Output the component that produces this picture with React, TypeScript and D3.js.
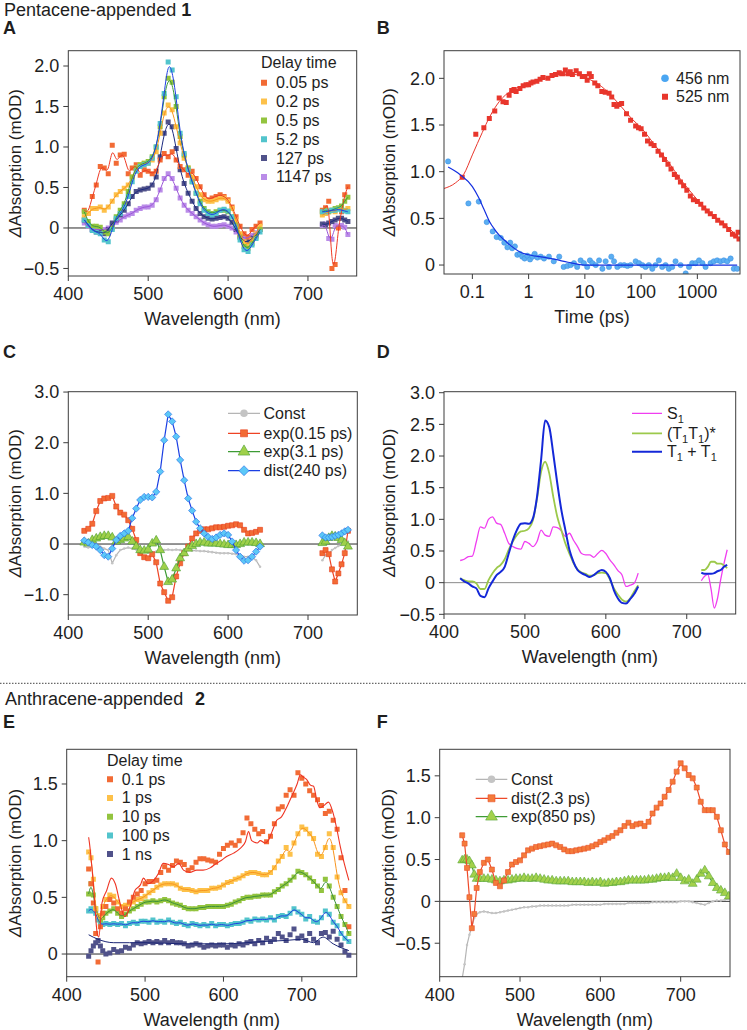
import React from 'react';
import * as d3 from 'd3';

const FONT = '"Liberation Sans", Arial, Helvetica, sans-serif';
const INK = '#1e1e1e';
const FRAME = '#3c3c3c';

// ---------------- tick labels ----------------
const X_WL_TICKS = [400, 500, 600, 700];
const X_WL_LABELS = ['400', '500', '600', '700'];
const X_TIME_TICKS = [0.1, 1, 10, 100, 1000];
const X_TIME_LABELS = ['0.1', '1', '10', '100', '1000'];
const Y_TICKS_A = [-0.5, 0, 0.5, 1, 1.5, 2];
const Y_LABELS_A = ['\u22120.5', '0', '0.5', '1.0', '1.5', '2.0'];
const Y_TICKS_B = [0, 0.5, 1, 1.5, 2];
const Y_LABELS_B = ['0', '0.5', '1.0', '1.5', '2.0'];
const Y_TICKS_C = [-1, 0, 1, 2, 3];
const Y_LABELS_C = ['\u22121.0', '0', '1.0', '2.0', '3.0'];
const Y_TICKS_D = [-0.5, 0, 0.5, 1, 1.5, 2, 2.5, 3];
const Y_LABELS_D = ['\u22120.5', '0', '0.5', '1.0', '1.5', '2.0', '2.5', '3.0'];
const Y_TICKS_E = [0, 0.5, 1, 1.5];
const Y_LABELS_E = ['0', '0.5', '1.0', '1.5'];
const Y_TICKS_F = [-0.5, 0, 0.5, 1, 1.5];
const Y_LABELS_F = ['\u22120.5', '0', '0.5', '1.0', '1.5'];

// ---------------- wavelength grids ----------------
const WL_VIS = [420, 425, 430, 435, 440, 445, 450, 455, 460, 465, 470, 475, 480, 485, 490, 495, 500, 505, 510, 515, 520, 525, 530, 535, 540, 545, 550, 555, 560, 565, 570, 575, 580, 585, 590, 595, 600, 605, 610, 615, 620, 625, 630, 635, 640];
const WL_NIR = [718, 722, 726, 730, 734, 738, 742, 746, 750];
const WL_EF = [428, 431, 434, 437, 440, 443, 446, 450, 455, 460, 465, 470, 475, 480, 485, 490, 495, 500, 505, 510, 515, 520, 525, 530, 535, 540, 545, 550, 555, 560, 565, 570, 575, 580, 585, 590, 595, 600, 605, 610, 615, 620, 625, 630, 635, 640, 645, 650, 655, 660, 665, 670, 675, 680, 685, 690, 695, 700, 705, 710, 715, 720, 725, 730, 735, 740, 745, 750, 755, 760];

// ---------------- Panel A: delay-time spectra ----------------
const A_LABELS = ['0.05 ps', '0.2 ps', '0.5 ps', '5.2 ps', '127 ps', '1147 ps'];
const A_005_VIS = [0.22, 0.18, 0.39, 0.53, 0.76, 0.74, 0.67, 1.02, 0.80, 0.90, 0.91, 0.67, 0.74, 0.78, 0.65, 0.72, 0.70, 0.67, 0.70, 0.84, 0.92, 0.88, 0.94, 0.84, 0.76, 0.72, 0.65, 0.70, 0.61, 0.51, 0.41, 0.35, 0.37, 0.39, 0.41, 0.39, 0.35, 0.26, 0.14, 0.02, -0.07, -0.11, -0.02, 0.02, 0.06];
const A_02_VIS = [0.14, 0.18, 0.24, 0.24, 0.26, 0.22, 0.26, 0.33, 0.41, 0.45, 0.49, 0.53, 0.63, 0.74, 0.78, 0.80, 0.80, 0.84, 0.94, 1.17, 1.42, 1.52, 1.46, 1.25, 1.05, 0.86, 0.74, 0.63, 0.51, 0.41, 0.35, 0.33, 0.33, 0.35, 0.37, 0.37, 0.33, 0.24, 0.10, -0.07, -0.17, -0.21, -0.15, -0.07, 0.02];
const A_05_VIS = [0.20, 0.08, 0.02, 0.02, 0.01, -0.05, -0.07, 0, 0.14, 0.22, 0.30, 0.45, 0.63, 0.74, 0.78, 0.80, 0.82, 0.88, 1.00, 1.25, 1.62, 1.85, 1.80, 1.50, 1.13, 0.90, 0.74, 0.57, 0.43, 0.33, 0.24, 0.20, 0.18, 0.20, 0.22, 0.22, 0.20, 0.14, 0.04, -0.11, -0.23, -0.25, -0.19, -0.11, -0.02];
const A_52_VIS = [0.10, 0.03, -0.03, -0.05, -0.07, -0.15, -0.17, -0.02, 0.12, 0.18, 0.26, 0.39, 0.57, 0.70, 0.76, 0.78, 0.80, 0.86, 1.00, 1.29, 1.66, 2.05, 1.95, 1.62, 1.17, 0.92, 0.72, 0.57, 0.43, 0.30, 0.22, 0.18, 0.16, 0.18, 0.22, 0.23, 0.21, 0.14, 0.02, -0.15, -0.27, -0.29, -0.21, -0.13, -0.05];
const A_127_VIS = [0.10, 0.04, -0.02, -0.05, -0.05, -0.07, -0.02, 0.06, 0.10, 0.16, 0.22, 0.30, 0.39, 0.45, 0.47, 0.48, 0.49, 0.53, 0.63, 0.88, 1.17, 1.31, 1.25, 0.98, 0.72, 0.55, 0.43, 0.33, 0.24, 0.18, 0.14, 0.12, 0.11, 0.12, 0.13, 0.14, 0.12, 0.07, -0.02, -0.11, -0.17, -0.17, -0.13, -0.09, -0.02];
const A_1147_VIS = [0.06, 0.02, -0.02, -0.02, -0.02, -0.02, 0, 0.04, 0.07, 0.10, 0.14, 0.16, 0.18, 0.22, 0.24, 0.26, 0.26, 0.28, 0.35, 0.47, 0.61, 0.67, 0.61, 0.49, 0.37, 0.28, 0.22, 0.18, 0.14, 0.10, 0.06, 0.04, 0.02, 0.02, 0.03, 0.04, 0.02, 0, -0.05, -0.09, -0.13, -0.12, -0.09, -0.06, -0.02];
const A_005_NIR = [0.22, 0.25, 0.33, -0.50, -0.45, 0.0, 0.20, 0.41, 0.51];
const A_02_NIR = [0.16, 0.18, 0.20, 0.22, 0.20, 0.24, 0.25, 0.22, 0.24];
const A_05_NIR = [0.20, 0.22, 0.20, 0.22, 0.24, 0.25, 0.27, 0.33, 0.38];
const A_52_NIR = [0.20, 0.20, 0.21, 0.22, 0.22, 0.23, 0.22, 0.21, 0.20];
const A_127_NIR = [0.05, 0.04, 0.06, 0.08, 0.10, 0.12, 0.12, 0.10, 0.08];
const A_1147_NIR = [0.03, 0.05, -0.13, -0.14, 0.03, 0.02, 0.03, 0.01, -0.08];

// ---------------- Panel B: kinetics ----------------
const B_RED_T = [0.066, 0.115, 0.16, 0.2, 0.25, 0.3, 0.35, 0.4, 0.45, 0.5, 0.55, 0.6, 0.7, 0.8, 0.9, 1.0, 1.1, 1.2, 1.4, 1.6, 1.8, 2.2, 2.6, 3.0, 3.5, 4.0, 4.5, 5.0, 5.5, 6, 7, 8, 9, 10, 11, 12, 13, 15, 17, 20, 23, 27, 30, 33, 37, 40, 45, 55, 65, 80, 90, 100, 115, 130, 150, 170, 200, 230, 260, 300, 340, 390, 440, 500, 570, 650, 750, 850, 1000, 1150, 1300, 1500, 1700, 2000, 2300, 2700, 3100, 3600, 4200, 4800, 5300, 5500];
const B_RED_V = [0.94, 1.40, 1.47, 1.57, 1.65, 1.79, 1.75, 1.74, 1.82, 1.87, 1.88, 1.86, 1.89, 1.92, 1.93, 1.93, 1.95, 1.96, 1.97, 1.99, 2.01, 2.00, 2.03, 2.04, 2.06, 2.05, 2.09, 2.05, 2.07, 2.04, 2.08, 2.05, 2.02, 2.02, 1.98, 2.05, 2.02, 1.95, 1.92, 1.86, 1.85, 1.84, 1.80, 1.72, 1.70, 1.72, 1.73, 1.62, 1.55, 1.49, 1.47, 1.46, 1.40, 1.33, 1.30, 1.28, 1.22, 1.18, 1.13, 1.08, 1.03, 0.97, 0.94, 0.89, 0.85, 0.80, 0.74, 0.70, 0.68, 0.65, 0.61, 0.58, 0.55, 0.52, 0.48, 0.45, 0.42, 0.38, 0.33, 0.31, 0.35, 0.28];
const B_BLUE_T = [0.037, 0.085, 0.13, 0.18, 0.23, 0.27, 0.32, 0.37, 0.42, 0.47, 0.51, 0.57, 0.63, 0.70, 0.77, 0.85, 0.95, 1.06, 1.17, 1.28, 1.43, 1.64, 1.88, 2.3, 2.8, 3.5, 4.2, 4.9, 5.6, 6.4, 7.3, 8.4, 9.6, 11, 12.3, 13.6, 15.6, 17.9, 20.5, 23.4, 26.8, 29.5, 33, 37.8, 43, 50, 57, 65, 80, 92, 105, 120, 137, 158, 181, 207, 237, 272, 311, 357, 409, 503, 620, 710, 810, 930, 1070, 1230, 1400, 1720, 1960, 2250, 2580, 2960, 3400, 3900, 4450, 5100];
const B_BLUE_V = [1.11, 0.66, 0.68, 0.46, 0.36, 0.30, 0.29, 0.24, 0.19, 0.24, 0.18, 0.20, 0.11, 0.12, 0.09, 0.07, 0.10, 0.06, 0.09, 0.12, 0.08, 0.09, 0.07, 0.09, 0.04, 0.09, -0.02, -0.01, 0, 0.02, -0.02, 0.05, 0.02, -0.02, 0.05, 0.02, 0, 0.05, -0.04, 0.04, -0.02, 0.09, 0.04, -0.02, 0, 0, -0.01, 0, 0.04, 0.02, 0, -0.02, 0, -0.04, 0, 0.05, -0.02, 0, -0.04, -0.02, 0.04, 0, -0.09, -0.02, 0.02, 0.02, 0.05, 0.02, -0.02, 0.02, 0.04, 0.05, 0.04, 0.05, 0.04, 0.07, -0.04, -0.04];
const B_RED_FIT_T = [0.0313, 0.05, 0.07, 0.1, 0.15, 0.2, 0.3, 0.5, 0.7, 1, 2, 3, 5, 7, 10, 15, 20, 30, 50, 70, 100, 200, 300, 500, 700, 1000, 2000, 3000, 5730];
const B_RED_FIT_V = [0.82, 0.88, 0.97, 1.18, 1.42, 1.58, 1.75, 1.87, 1.91, 1.94, 2.00, 2.02, 2.04, 2.04, 2.01, 1.96, 1.91, 1.81, 1.66, 1.56, 1.47, 1.24, 1.11, 0.92, 0.81, 0.70, 0.52, 0.44, 0.28];
const B_BLUE_FIT_T = [0.037, 0.06, 0.1, 0.13, 0.16, 0.2, 0.25, 0.3, 0.4, 0.5, 0.7, 1, 2, 3, 5, 10, 100, 5100];
const B_BLUE_FIT_V = [1.05, 0.97, 0.84, 0.72, 0.60, 0.47, 0.38, 0.32, 0.25, 0.20, 0.14, 0.11, 0.08, 0.06, 0.03, 0.0, 0.0, 0.0];

// ---------------- Panel C: global-fit components ----------------
const C_LABELS = ['Const', 'exp(0.15 ps)', 'exp(3.1 ps)', 'dist(240 ps)'];
const C_CONST_VIS = [-0.05, -0.07, -0.05, -0.04, -0.05, -0.09, -0.12, -0.38, -0.22, -0.12, -0.09, -0.07, -0.09, -0.11, -0.13, -0.15, -0.17, -0.17, -0.15, -0.13, -0.12, -0.11, -0.12, -0.11, -0.12, -0.12, -0.12, -0.13, -0.13, -0.14, -0.14, -0.15, -0.16, -0.17, -0.18, -0.18, -0.18, -0.19, -0.20, -0.22, -0.25, -0.25, -0.26, -0.32, -0.45];
const C_CONST_NIR = [-0.32, -0.22, -0.20, -0.12, -0.08, -0.04, 0, 0.02, 0.05];
const C_E015_VIS = [0.26, 0.30, 0.40, 0.65, 0.85, 0.90, 0.91, 0.95, 0.74, 0.62, 0.58, 0.47, 0.30, 0.08, -0.18, -0.26, -0.28, -0.20, -0.36, -0.78, -0.95, -1.12, -1.05, -0.64, -0.38, -0.18, -0.05, 0.11, 0.21, 0.26, 0.29, 0.29, 0.31, 0.33, 0.33, 0.34, 0.36, 0.37, 0.39, 0.37, 0.28, 0.21, 0.22, 0.24, 0.28];
const C_E015_NIR = [-0.18, -0.12, -0.20, -0.50, -0.74, -0.58, -0.40, -0.18, 0.26];
const C_E31_VIS = [0.03, 0.01, 0.08, 0.11, 0.14, 0.16, 0.16, 0.13, 0.05, 0.08, 0.11, 0.14, 0.05, -0.05, -0.12, -0.13, -0.11, 0.01, 0.07, -0.12, -0.45, -0.75, -0.70, -0.48, -0.28, -0.18, -0.09, -0.04, 0, 0.03, 0.03, 0.01, 0.01, 0.01, 0, -0.01, -0.02, -0.02, -0.02, 0, 0.03, 0.03, 0.03, 0.02, 0];
const C_E31_NIR = [0.02, 0.05, 0.12, 0.16, 0.15, 0.12, 0.08, 0.02, -0.05];
const C_D240_VIS = [0.07, 0.03, -0.02, -0.05, -0.12, -0.22, -0.25, -0.09, 0.08, 0.16, 0.21, 0.26, 0.51, 0.70, 0.87, 0.93, 0.93, 0.92, 1.03, 1.43, 2.05, 2.56, 2.42, 2.12, 1.66, 1.26, 0.90, 0.66, 0.44, 0.31, 0.21, 0.14, 0.10, 0.13, 0.18, 0.21, 0.18, 0.05, -0.12, -0.25, -0.33, -0.32, -0.25, -0.15, -0.05];
const C_D240_NIR = [0.17, 0.13, 0.13, 0.14, 0.16, 0.18, 0.21, 0.25, 0.28];

// ---------------- Panel D: species spectra ----------------
const D_S1_VIS = [0.35, 0.37, 0.41, 0.42, 0.65, 0.88, 0.86, 1.00, 1.04, 0.94, 0.92, 0.78, 0.62, 0.57, 0.54, 0.53, 0.65, 0.62, 0.57, 0.65, 0.83, 0.75, 0.73, 0.88, 0.87, 0.82, 0.73, 0.78, 0.67, 0.57, 0.46, 0.44, 0.44, 0.40, 0.46, 0.51, 0.46, 0.36, 0.28, 0.19, 0.12, -0.06, -0.04, -0.01, 0.15];
const D_S1_NIR = [0.03, 0.10, 0.13, -0.10, -0.40, -0.25, 0.05, 0.30, 0.52];
const D_TT_VIS = [0.07, 0.04, 0.02, 0.02, -0.01, -0.10, -0.10, 0.04, 0.15, 0.23, 0.28, 0.37, 0.52, 0.65, 0.75, 0.81, 0.82, 0.86, 0.99, 1.33, 1.75, 1.91, 1.73, 1.36, 1.04, 0.83, 0.62, 0.46, 0.31, 0.21, 0.16, 0.14, 0.11, 0.12, 0.15, 0.16, 0.15, 0.05, -0.09, -0.19, -0.27, -0.30, -0.25, -0.14, -0.04];
const D_TT_NIR = [0.20, 0.20, 0.25, 0.33, 0.33, 0.30, 0.30, 0.27, 0.23];
const D_T1_VIS = [0.07, 0.02, -0.01, -0.06, -0.09, -0.21, -0.23, -0.09, 0.02, 0.12, 0.17, 0.25, 0.46, 0.67, 0.83, 0.93, 0.94, 0.93, 1.02, 1.36, 1.94, 2.56, 2.46, 2.04, 1.57, 1.15, 0.83, 0.52, 0.33, 0.20, 0.15, 0.12, 0.09, 0.12, 0.17, 0.20, 0.17, 0.07, -0.12, -0.25, -0.32, -0.33, -0.26, -0.18, -0.06];
const D_T1_NIR = [0.16, 0.14, 0.14, 0.14, 0.15, 0.18, 0.20, 0.25, 0.28];

// ---------------- Panel E: anthracene delay-time spectra ----------------
const E_LABELS = ['0.1 ps', '1 ps', '10 ps', '100 ps', '1 ns'];
const E_01 = [0.75, 0.62, 0.45, 0.18, -0.07, 0.24, 0.36, 0.42, 0.48, 0.45, 0.40, 0.36, 0.40, 0.46, 0.50, 0.53, 0.56, 0.62, 0.64, 0.64, 0.65, 0.72, 0.77, 0.74, 0.78, 0.82, 0.81, 0.79, 0.74, 0.76, 0.81, 0.84, 0.84, 0.83, 0.82, 0.81, 0.88, 0.93, 0.96, 0.98, 0.96, 1.00, 1.07, 1.20, 1.15, 1.10, 1.06, 1.08, 0.99, 1.04, 1.15, 1.28, 1.30, 1.40, 1.45, 1.40, 1.60, 1.55, 1.50, 1.44, 1.40, 1.36, 1.31, 1.24, 1.26, 1.18, 1.10, 0.85, 0.56, 0.24];
const E_1 = [0.90, 0.85, 0.66, 0.40, 0.34, 0.33, 0.42, 0.48, 0.52, 0.51, 0.46, 0.42, 0.43, 0.44, 0.46, 0.48, 0.49, 0.51, 0.54, 0.56, 0.59, 0.61, 0.62, 0.62, 0.62, 0.61, 0.58, 0.57, 0.57, 0.56, 0.55, 0.56, 0.56, 0.56, 0.58, 0.58, 0.59, 0.61, 0.63, 0.64, 0.66, 0.67, 0.69, 0.71, 0.72, 0.72, 0.71, 0.70, 0.70, 0.72, 0.76, 0.82, 0.86, 0.94, 0.88, 0.98, 1.06, 1.12, 1.10, 1.06, 1.02, 0.88, 0.86, 0.94, 1.06, 0.94, 0.68, 0.54, 0.47, 0.42];
const E_10 = [0.53, 0.62, 0.52, 0.40, 0.34, 0.30, 0.32, 0.36, 0.38, 0.40, 0.36, 0.33, 0.35, 0.38, 0.40, 0.42, 0.44, 0.46, 0.46, 0.47, 0.46, 0.47, 0.48, 0.47, 0.45, 0.44, 0.43, 0.41, 0.40, 0.40, 0.40, 0.41, 0.41, 0.42, 0.42, 0.42, 0.42, 0.42, 0.43, 0.44, 0.46, 0.47, 0.49, 0.50, 0.50, 0.51, 0.51, 0.52, 0.52, 0.52, 0.55, 0.57, 0.60, 0.62, 0.65, 0.68, 0.73, 0.72, 0.70, 0.67, 0.64, 0.60, 0.56, 0.66, 0.60, 0.50, 0.42, 0.33, 0.26, 0.18];
const E_100 = [0.38, 0.40, 0.38, 0.36, 0.30, 0.27, 0.26, 0.27, 0.26, 0.27, 0.26, 0.27, 0.25, 0.27, 0.28, 0.27, 0.29, 0.29, 0.28, 0.30, 0.28, 0.29, 0.28, 0.30, 0.28, 0.27, 0.28, 0.26, 0.25, 0.27, 0.26, 0.25, 0.26, 0.25, 0.27, 0.25, 0.26, 0.26, 0.25, 0.26, 0.27, 0.27, 0.28, 0.30, 0.29, 0.31, 0.30, 0.31, 0.30, 0.32, 0.30, 0.33, 0.34, 0.33, 0.36, 0.40, 0.37, 0.35, 0.31, 0.33, 0.29, 0.28, 0.32, 0.38, 0.35, 0.28, 0.25, 0.18, 0.14, 0.11];
const E_1NS = [-0.02, 0.03, 0.07, 0.10, 0.12, 0.07, 0.03, 0, 0.01, 0.04, 0.02, 0.03, 0.06, 0.05, 0.08, 0.10, 0.09, 0.10, 0.11, 0.10, 0.11, 0.10, 0.12, 0.10, 0.11, 0.10, 0.10, 0.09, 0.07, 0.08, 0.09, 0.08, 0.06, 0.07, 0.08, 0.07, 0.08, 0.08, 0.06, 0.08, 0.07, 0.09, 0.08, 0.10, 0.11, 0.09, 0.12, 0.10, 0.14, 0.11, 0.13, 0.18, 0.15, 0.12, 0.17, 0.22, 0.14, 0.16, 0.12, 0.18, 0.13, 0.10, 0.18, 0.19, 0.15, 0.20, 0.13, 0.08, 0.02, -0.01];
const E_01_FIT_WL = [428, 429, 434, 439, 441, 445, 451, 457, 462, 468, 474, 481, 487, 494, 498, 504, 511, 517, 523, 530, 536, 543, 549, 557, 566, 574, 583, 591, 598, 604, 613, 621, 628, 632, 636, 643, 647, 653, 657, 662, 668, 674, 681, 687, 694, 698, 702, 706, 711, 715, 719, 723, 728, 734, 740, 745, 749, 753, 760];
const E_01_FIT_V = [1.03, 0.98, 0.62, 0.18, 0.15, 0.45, 0.56, 0.67, 0.62, 0.45, 0.33, 0.42, 0.56, 0.61, 0.67, 0.62, 0.65, 0.71, 0.80, 0.79, 0.77, 0.80, 0.74, 0.72, 0.74, 0.74, 0.76, 0.80, 0.83, 0.86, 0.89, 0.93, 0.99, 1.08, 1.00, 0.98, 1.00, 0.98, 1.00, 1.08, 1.18, 1.21, 1.30, 1.39, 1.50, 1.58, 1.56, 1.54, 1.49, 1.48, 1.36, 1.29, 1.31, 1.34, 1.24, 1.09, 0.95, 0.83, 0.65];
const E_1NS_FIT_WL = [428, 440, 460, 480, 500, 550, 600, 650, 680, 700, 715, 727, 740, 760];
const E_1NS_FIT_V = [0.17, 0.13, 0.10, 0.10, 0.10, 0.09, 0.09, 0.11, 0.12, 0.13, 0.10, 0.15, 0.09, 0.03];

// ---------------- Panel F: anthracene components ----------------
const F_LABELS = ['Const', 'dist(2.3 ps)', 'exp(850 ps)'];
const F_CONST = [-0.92, -0.75, -0.52, -0.40, -0.30, -0.20, -0.15, -0.13, -0.12, -0.13, -0.14, -0.14, -0.13, -0.12, -0.11, -0.10, -0.09, -0.08, -0.07, -0.07, -0.06, -0.06, -0.05, -0.05, -0.05, -0.05, -0.05, -0.05, -0.05, -0.05, -0.04, -0.04, -0.04, -0.04, -0.04, -0.04, -0.04, -0.04, -0.03, -0.03, -0.03, -0.03, -0.03, -0.03, -0.02, -0.02, -0.02, -0.02, -0.02, -0.02, -0.01, -0.01, -0.01, -0.01, -0.01, -0.01, -0.01, 0, 0, 0, -0.01, -0.02, -0.03, -0.04, -0.02, 0, 0.01, 0.01, 0.02, 0.03];
const F_DIST = [0.79, 0.69, 0.40, 0.05, -0.32, -0.15, 0.16, 0.35, 0.46, 0.50, 0.38, 0.22, 0.18, 0.25, 0.35, 0.44, 0.47, 0.49, 0.55, 0.61, 0.63, 0.65, 0.66, 0.67, 0.68, 0.69, 0.67, 0.65, 0.62, 0.60, 0.60, 0.61, 0.62, 0.63, 0.64, 0.66, 0.68, 0.71, 0.73, 0.76, 0.78, 0.82, 0.85, 0.90, 0.94, 0.90, 0.92, 0.93, 0.90, 0.95, 1.05, 1.12, 1.17, 1.25, 1.33, 1.43, 1.55, 1.65, 1.59, 1.51, 1.47, 1.36, 1.19, 1.09, 1.09, 1.09, 1.01, 0.85, 0.68, 0.59];
const F_EXP = [0.49, 0.50, 0.50, 0.48, 0.43, 0.32, 0.27, 0.27, 0.27, 0.27, 0.26, 0.25, 0.24, 0.25, 0.25, 0.26, 0.27, 0.27, 0.28, 0.27, 0.27, 0.28, 0.27, 0.26, 0.25, 0.25, 0.24, 0.24, 0.24, 0.24, 0.23, 0.23, 0.23, 0.23, 0.22, 0.23, 0.22, 0.23, 0.21, 0.22, 0.22, 0.23, 0.23, 0.24, 0.25, 0.25, 0.25, 0.25, 0.25, 0.26, 0.26, 0.27, 0.28, 0.28, 0.29, 0.28, 0.33, 0.28, 0.24, 0.26, 0.21, 0.26, 0.33, 0.37, 0.30, 0.22, 0.16, 0.13, 0.10, 0.06];

// ---------------- helpers ----------------
type Box = { l: number; t: number; r: number; b: number };
type Sc = (v: number) => number;

const SQ = d3.symbol().type(d3.symbolSquare).size(25)() as string;
const SQ_LEG = d3.symbol().type(d3.symbolSquare).size(36)() as string;
const CIRC = d3.symbol().type(d3.symbolCircle).size(22)() as string;
const TRI = d3.symbol().type(d3.symbolTriangle).size(34)() as string;
const TRI_LEG = d3.symbol().type(d3.symbolTriangle).size(60)() as string;
const DIA = 'M0,-3.6L3.6,0L0,3.6L-3.6,0Z';
const DIA_LEG = 'M0,-5L5,0L0,5L-5,0Z';
const DOT = d3.symbol().type(d3.symbolCircle).size(5)() as string;
const DOT_LEG = d3.symbol().type(d3.symbolCircle).size(45)() as string;
const SQ_MID = d3.symbol().type(d3.symbolSquare).size(49)() as string;

function Marks(p: { xs: number[]; ys: number[]; x: Sc; y: Sc; d: string; fill: string; stroke?: string; sw?: number }) {
  return (
    <g>
      {p.ys.map((v, i) => (
        <path key={i} d={p.d} transform={`translate(${p.x(p.xs[i]).toFixed(2)},${p.y(v).toFixed(2)})`}
          fill={p.fill} stroke={p.stroke || 'none'} strokeWidth={p.sw ?? 0.5} />
      ))}
    </g>
  );
}

function Curve(p: { xs: number[]; ys: number[]; x: Sc; y: Sc; color: string; width?: number; curve?: any }) {
  const gen = d3.line<number>().x((_, i) => p.x(p.xs[i])).y(v => p.y(v)).curve(p.curve || d3.curveLinear);
  return <path d={gen(p.ys) || ''} fill="none" stroke={p.color} strokeWidth={p.width ?? 1} strokeLinejoin="round" />;
}

function Frame(p: {
  box: Box; x: Sc; y: Sc; xTicks: number[]; xLabels: string[]; yTicks: number[]; yLabels: string[];
  xTitle: string; yTitleX: number; zero?: string; clipId: string; children?: React.ReactNode;
}) {
  const { box, x, y } = p;
  const cx = (box.l + box.r) / 2;
  const cy = (box.t + box.b) / 2;
  return (
    <g>
      <defs>
        <clipPath id={p.clipId}>
          <rect x={box.l} y={box.t} width={box.r - box.l} height={box.b - box.t} />
        </clipPath>
      </defs>
      {p.zero && <line x1={box.l} x2={box.r} y1={y(0)} y2={y(0)} stroke={p.zero} strokeWidth={1} />}
      <g clipPath={`url(#${p.clipId})`}>{p.children}</g>
      <rect x={box.l} y={box.t} width={box.r - box.l} height={box.b - box.t} fill="none" stroke={FRAME} strokeWidth={1} />
      {p.yTicks.map((v, i) => (
        <g key={'y' + i}>
          <line x1={box.l - 5} x2={box.l} y1={y(v)} y2={y(v)} stroke={FRAME} />
          <text x={box.l - 9} y={y(v)} dy="0.35em" textAnchor="end" fontSize={18} fill={INK}>{p.yLabels[i]}</text>
        </g>
      ))}
      {p.xTicks.map((v, i) => (
        <g key={'x' + i}>
          <line x1={x(v)} x2={x(v)} y1={box.b} y2={box.b + 5} stroke={FRAME} />
          <text x={x(v)} y={box.b + 24} textAnchor="middle" fontSize={18} fill={INK}>{p.xLabels[i]}</text>
        </g>
      ))}
      <text x={cx} y={box.b + 49} textAnchor="middle" fontSize={18} fill={INK}>{p.xTitle}</text>
      <text transform={`translate(${p.yTitleX},${cy}) rotate(-90)`} textAnchor="middle" fontSize={17} fill={INK}>
        <tspan fontStyle="italic">Δ</tspan>Absorption (mOD)
      </text>
    </g>
  );
}

// ---------------- panels ----------------
function PanelA() {
  const box: Box = { l: 68.3, t: 50.7, r: 356.7, b: 276 };
  const x = d3.scaleLinear([400, 761], [box.l, box.r]);
  const y = d3.scaleLinear([-0.593, 2.189], [box.b, box.t]);
  const series = [
    { vis: A_005_VIS, nir: A_005_NIR, fill: '#f26b35', line: '#ee3a24' },
    { vis: A_02_VIS, nir: A_02_NIR, fill: '#fdc14a', line: '#f7941d' },
    { vis: A_05_VIS, nir: A_05_NIR, fill: '#93c43f', line: '#3d9a3a' },
    { vis: A_52_VIS, nir: A_52_NIR, fill: '#52c4cc', line: '#1f3fe3' },
    { vis: A_127_VIS, nir: A_127_NIR, fill: '#50528a', line: '#1c2a80' },
    { vis: A_1147_VIS, nir: A_1147_NIR, fill: '#ba8ce8', line: '#9b55d8' },
  ];
  const order = [5, 4, 0, 1, 2, 3];
  return (
    <Frame box={box} x={x} y={y} xTicks={X_WL_TICKS} xLabels={X_WL_LABELS} yTicks={Y_TICKS_A} yLabels={Y_LABELS_A}
      xTitle="Wavelength (nm)" yTitleX={21} zero="#2a2a2a" clipId="clipA">
      {order.map(k => (
        <g key={'m' + k}>
          <Marks xs={WL_VIS} ys={series[k].vis} x={x} y={y} d={SQ} fill={series[k].fill} />
          <Marks xs={WL_NIR} ys={series[k].nir} x={x} y={y} d={SQ} fill={series[k].fill} />
        </g>
      ))}
      {order.map(k => (
        <g key={'l' + k}>
          <Curve xs={WL_VIS} ys={series[k].vis} x={x} y={y} color={series[k].line} width={1} curve={d3.curveBasis} />
          <Curve xs={WL_NIR} ys={series[k].nir} x={x} y={y} color={series[k].line} width={1} curve={d3.curveBasis} />
        </g>
      ))}
      <text x={261} y={68} fontSize={16} fill={INK}>Delay time</text>
      {series.map((s, i) => (
        <g key={'lg' + i}>
          <path d={SQ_LEG} transform={`translate(264,${82.7 + i * 18.85})`} fill={s.fill} />
          <text x={276} y={82.7 + i * 18.85} dy="0.34em" fontSize={16} fill={INK}>{A_LABELS[i]}</text>
        </g>
      ))}
    </Frame>
  );
}

function PanelB() {
  const box: Box = { l: 444, t: 50.7, r: 740, b: 274 };
  const x = d3.scaleLog([0.0313, 5730], [box.l, box.r]);
  const y = d3.scaleLinear([-0.096, 2.296], [box.b, box.t]);
  return (
    <Frame box={box} x={x} y={y} xTicks={X_TIME_TICKS} xLabels={X_TIME_LABELS} yTicks={Y_TICKS_B} yLabels={Y_LABELS_B}
      xTitle="Time (ps)" yTitleX={395} clipId="clipB">
      <Marks xs={B_BLUE_T} ys={B_BLUE_V} x={x} y={y} d={CIRC} fill="#5aaef2" stroke="#3b8de0" sw={0.5} />
      <Marks xs={B_RED_T} ys={B_RED_V} x={x} y={y} d={SQ} fill="#e8362c" />
      <Curve xs={B_RED_FIT_T} ys={B_RED_FIT_V} x={x} y={y} color="#e8362c" width={1} curve={d3.curveMonotoneX} />
      <Curve xs={B_BLUE_FIT_T} ys={B_BLUE_FIT_V} x={x} y={y} color="#1530e0" width={1.2} curve={d3.curveMonotoneX} />
      <path d={DOT_LEG} transform="translate(665,78.3)" fill="#4aa6f2" />
      <text x={676} y={78.3} dy="0.34em" fontSize={16} fill={INK}>456 nm</text>
      <path d={SQ_LEG} transform="translate(665,96.7)" fill="#e8362c" />
      <text x={676} y={96.7} dy="0.34em" fontSize={16} fill={INK}>525 nm</text>
    </Frame>
  );
}

function PanelC() {
  const box: Box = { l: 68.3, t: 391.7, r: 357.3, b: 615 };
  const x = d3.scaleLinear([400, 761.7], [box.l, box.r]);
  const y = d3.scaleLinear([-1.401, 3.007], [box.b, box.t]);
  const comps = [
    { vis: C_CONST_VIS, nir: C_CONST_NIR, line: '#b5b5b5', fill: '#c4c4c4', stroke: 'none', d: DOT, dl: DOT_LEG },
    { vis: C_E015_VIS, nir: C_E015_NIR, line: '#ee4324', fill: '#f26b35', stroke: '#e8401c', d: SQ, dl: SQ_MID },
    { vis: C_E31_VIS, nir: C_E31_NIR, line: '#3d9b35', fill: '#9fd04a', stroke: '#4a9e2f', d: TRI, dl: TRI_LEG },
    { vis: C_D240_VIS, nir: C_D240_NIR, line: '#1b3fe3', fill: '#5cc8f7', stroke: '#2266e6', d: DIA, dl: DIA_LEG },
  ];
  return (
    <Frame box={box} x={x} y={y} xTicks={X_WL_TICKS} xLabels={X_WL_LABELS} yTicks={Y_TICKS_C} yLabels={Y_LABELS_C}
      xTitle="Wavelength (nm)" yTitleX={21} zero="#2a2a2a" clipId="clipC">
      {comps.map((c, k) => (
        <g key={k}>
          <Curve xs={WL_VIS} ys={c.vis} x={x} y={y} color={c.line} width={1.2} />
          <Curve xs={WL_NIR} ys={c.nir} x={x} y={y} color={c.line} width={1.2} />
          <Marks xs={WL_VIS} ys={c.vis} x={x} y={y} d={c.d} fill={c.fill} stroke={c.stroke} sw={0.6} />
          <Marks xs={WL_NIR} ys={c.nir} x={x} y={y} d={c.d} fill={c.fill} stroke={c.stroke} sw={0.6} />
        </g>
      ))}
      {comps.map((c, i) => {
        const yy = [413.3, 433.3, 451.7, 470.7][i];
        return (
          <g key={'lg' + i}>
            <line x1={228} x2={260} y1={yy} y2={yy} stroke={c.line} strokeWidth={1.2} />
            <path d={c.dl} transform={`translate(244,${yy})`} fill={c.fill} stroke={c.stroke} strokeWidth={0.6} />
            <text x={263.5} y={yy} dy="0.34em" fontSize={16} fill={INK}>{C_LABELS[i]}</text>
          </g>
        );
      })}
    </Frame>
  );
}

function PanelD() {
  const box: Box = { l: 444, t: 391.7, r: 735.7, b: 614 };
  const x = d3.scaleLinear([400, 760.5], [box.l, box.r]);
  const y = d3.scaleLinear([-0.495, 3.016], [box.b, box.t]);
  const sp = [
    { vis: D_S1_VIS, nir: D_S1_NIR, color: '#f03ef0', w: 1.3 },
    { vis: D_TT_VIS, nir: D_TT_NIR, color: '#9cc94b', w: 1.8 },
    { vis: D_T1_VIS, nir: D_T1_NIR, color: '#1428d8', w: 2 },
  ];
  const ly = [413.3, 433.3, 451.7];
  return (
    <Frame box={box} x={x} y={y} xTicks={X_WL_TICKS} xLabels={X_WL_LABELS} yTicks={Y_TICKS_D} yLabels={Y_LABELS_D}
      xTitle="Wavelength (nm)" yTitleX={395} zero="#8a8a8a" clipId="clipD">
      {sp.map((s, k) => (
        <g key={k}>
          <Curve xs={WL_VIS} ys={s.vis} x={x} y={y} color={s.color} width={s.w} curve={d3.curveMonotoneX} />
          <Curve xs={WL_NIR} ys={s.nir} x={x} y={y} color={s.color} width={s.w} curve={d3.curveMonotoneX} />
        </g>
      ))}
      {sp.map((s, i) => (
        <line key={'ll' + i} x1={632} x2={662} y1={ly[i]} y2={ly[i]} stroke={s.color} strokeWidth={s.w} />
      ))}
      <text x={667} y={ly[0]} dy="0.34em" fontSize={16} fill={INK}>S<tspan fontSize={11} dy={4}>1</tspan></text>
      <text x={667} y={ly[1]} dy="0.34em" fontSize={16} fill={INK}>
        (T<tspan fontSize={11} dy={4}>1</tspan><tspan dy={-4}>T</tspan><tspan fontSize={11} dy={4}>1</tspan><tspan dy={-4}>)*</tspan>
      </text>
      <text x={667} y={ly[2]} dy="0.34em" fontSize={16} fill={INK}>
        T<tspan fontSize={11} dy={4}>1</tspan><tspan dy={-4}> + T</tspan><tspan fontSize={11} dy={4}>1</tspan>
      </text>
    </Frame>
  );
}

function PanelE() {
  const box: Box = { l: 66.7, t: 749.3, r: 356.7, b: 976.7 };
  const x = d3.scaleLinear([400, 770], [box.l, box.r]);
  const y = d3.scaleLinear([-0.2, 1.806], [box.b, box.t]);
  const series = [
    { v: E_01, fill: '#f26b35', line: '#ee3524' },
    { v: E_1, fill: '#fdc14a', line: '#f7941d' },
    { v: E_10, fill: '#93c43f', line: '#3a8f3a' },
    { v: E_100, fill: '#52c4cc', line: '#1e3fe0' },
    { v: E_1NS, fill: '#50528a', line: '#1c2675' },
  ];
  const order = [4, 3, 2, 1, 0];
  return (
    <Frame box={box} x={x} y={y} xTicks={X_WL_TICKS} xLabels={X_WL_LABELS} yTicks={Y_TICKS_E} yLabels={Y_LABELS_E}
      xTitle="Wavelength (nm)" yTitleX={21} zero="#2a2a2a" clipId="clipE">
      {order.map(k => (
        <Marks key={'m' + k} xs={WL_EF} ys={series[k].v} x={x} y={y} d={SQ} fill={series[k].fill} />
      ))}
      <Curve xs={E_1NS_FIT_WL} ys={E_1NS_FIT_V} x={x} y={y} color={series[4].line} width={1} curve={d3.curveMonotoneX} />
      {[3, 2, 1].map(k => (
        <Curve key={'l' + k} xs={WL_EF} ys={series[k].v} x={x} y={y} color={series[k].line} width={1} curve={d3.curveBasis} />
      ))}
      <Curve xs={E_01_FIT_WL} ys={E_01_FIT_V} x={x} y={y} color={series[0].line} width={1.1} curve={d3.curveMonotoneX} />
      <text x={107} y={766} fontSize={16} fill={INK}>Delay time</text>
      {series.map((s, i) => (
        <g key={'lg' + i}>
          <path d={SQ_LEG} transform={`translate(110,${779.3 + i * 18.7})`} fill={s.fill} />
          <text x={121.7} y={779.3 + i * 18.7} dy="0.34em" fontSize={16} fill={INK}>{E_LABELS[i]}</text>
        </g>
      ))}
    </Frame>
  );
}

function PanelF() {
  const box: Box = { l: 439.7, t: 749.3, r: 730, b: 976.7 };
  const x = d3.scaleLinear([400, 761.4], [box.l, box.r]);
  const y = d3.scaleLinear([-0.9, 1.817], [box.b, box.t]);
  const comps = [
    { v: F_CONST, line: '#b5b5b5', fill: '#c4c4c4', stroke: 'none', d: DOT, dl: DOT_LEG },
    { v: F_DIST, line: '#ee4a2a', fill: '#f47b3b', stroke: '#ea4f26', d: SQ, dl: SQ_MID },
    { v: F_EXP, line: '#3f9c35', fill: '#a3d14b', stroke: '#5aa83a', d: TRI, dl: TRI_LEG },
  ];
  const ly = [779.3, 798.3, 816.7];
  return (
    <Frame box={box} x={x} y={y} xTicks={X_WL_TICKS} xLabels={X_WL_LABELS} yTicks={Y_TICKS_F} yLabels={Y_LABELS_F}
      xTitle="Wavelength (nm)" yTitleX={394} zero="#3a3a3a" clipId="clipF">
      {[0, 2, 1].map(k => (
        <g key={k}>
          <Curve xs={WL_EF} ys={comps[k].v} x={x} y={y} color={comps[k].line} width={1.2} />
          <Marks xs={WL_EF} ys={comps[k].v} x={x} y={y} d={comps[k].d} fill={comps[k].fill} stroke={comps[k].stroke} sw={0.6} />
        </g>
      ))}
      {comps.map((c, i) => (
        <g key={'lg' + i}>
          <line x1={475.7} x2={507.3} y1={ly[i]} y2={ly[i]} stroke={c.line} strokeWidth={1.2} />
          <path d={c.dl} transform={`translate(491.5,${ly[i]})`} fill={c.fill} stroke={c.stroke} strokeWidth={0.6} />
          <text x={511} y={ly[i]} dy="0.34em" fontSize={16} fill={INK}>{F_LABELS[i]}</text>
        </g>
      ))}
    </Frame>
  );
}

export default function App() {
  return (
    <svg width={747} height={1030} viewBox="0 0 747 1030"
      style={{ position: 'absolute', left: 0, top: 0, background: '#fff' }} fontFamily={FONT}>
      <rect x={0} y={0} width={747} height={1030} fill="#fff" />
      <text x={4} y={16} fontSize={18} fill={INK}>Pentacene-appended <tspan fontWeight="bold">1</tspan></text>
      <text x={3} y={34} fontSize={18} fontWeight="bold" fill={INK}>A</text>
      <text x={376.7} y={34} fontSize={18} fontWeight="bold" fill={INK}>B</text>
      <text x={3} y={358.3} fontSize={18} fontWeight="bold" fill={INK}>C</text>
      <text x={376.7} y={358.3} fontSize={18} fontWeight="bold" fill={INK}>D</text>
      <line x1={0} x2={747} y1={683.3} y2={683.3} stroke="#444" strokeWidth={1} strokeDasharray="1.5,1.5" />
      <text x={5} y={705} fontSize={18} fill={INK}>Anthracene-appended<tspan x={195} fontWeight="bold">2</tspan></text>
      <text x={3} y={728} fontSize={18} fontWeight="bold" fill={INK}>E</text>
      <text x={376.7} y={728} fontSize={18} fontWeight="bold" fill={INK}>F</text>
      <PanelA />
      <PanelB />
      <PanelC />
      <PanelD />
      <PanelE />
      <PanelF />
    </svg>
  );
}
